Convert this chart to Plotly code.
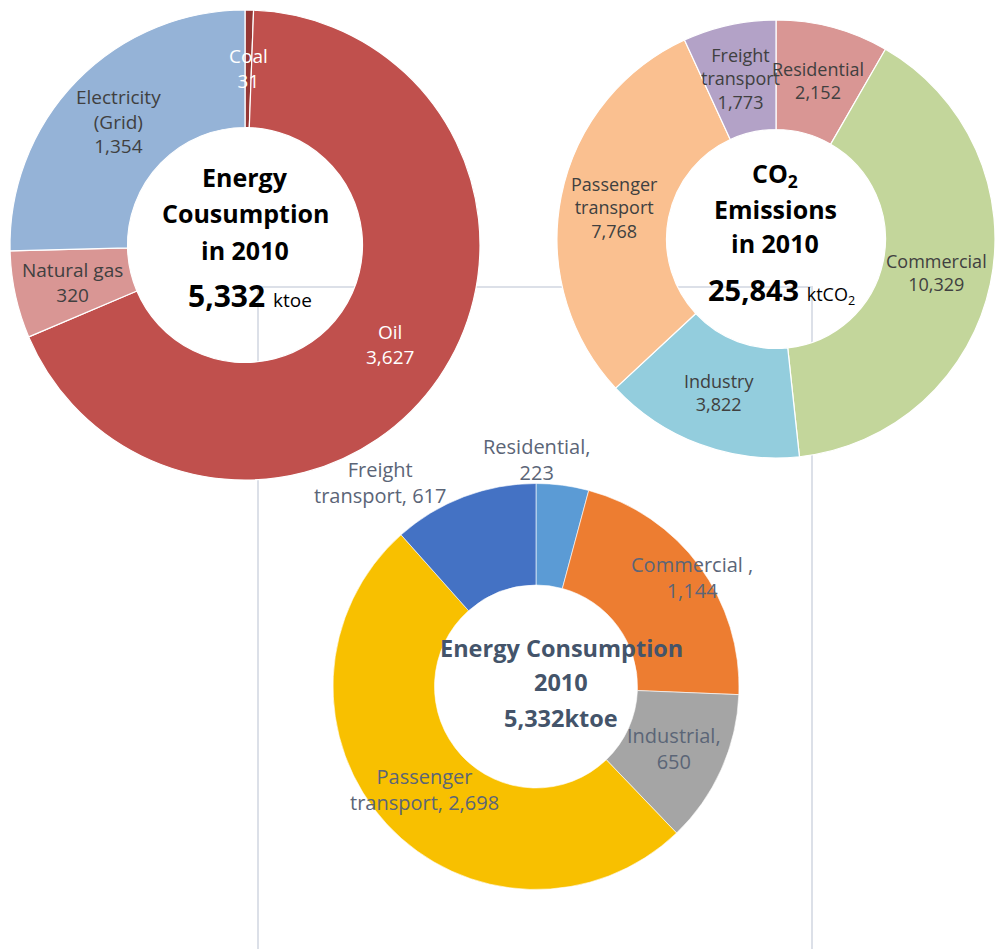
import math
import plotly.graph_objects as go

W, H = 995, 949

# ---- Energy consumption by source, 2010 (ktoe) ----
src_names = ["Coal", "Oil", "Natural gas", "Electricity<br>(Grid)"]
src_values = [31, 3627, 320, 1354]
src_colors = ["#953735", "#C0504D", "#D99694", "#95B3D7"]
src_text_colors = ["#FFFFFF", "#FFFFFF", "#404040", "#404040"]

# ---- CO2 emissions by sector, 2010 (ktCO2) ----
co2_names = ["Residential", "Commercial", "Industry", "Passenger<br>transport", "Freight<br>transport"]
co2_values = [2152, 10329, 3822, 7768, 1773]
co2_colors = ["#D99694", "#C3D69B", "#93CDDD", "#FAC090", "#B3A2C7"]
co2_total = 25843

# ---- Energy consumption by sector, 2010 (ktoe) ----
sec_labels = ["Residential,<br>{v}", "Commercial ,<br>{v}", "Industrial,<br>{v}",
              "Passenger<br>transport, {v}", "Freight<br>transport, {v}"]
sec_values = [223, 1144, 650, 2698, 617]
sec_colors = ["#5B9BD5", "#ED7D31", "#A5A5A5", "#F8C000", "#4472C4"]


def px_x(x):
    return x / W


def px_y(y):
    return 1 - y / H


def domain_for(left, top, size_w, size_h):
    return dict(x=[px_x(left), min(1.0, px_x(left + size_w))],
                y=[px_y(top + size_h), px_y(top)])


def mid_angles(values):
    total = sum(values)
    out, acc = [], 0.0
    for v in values:
        span = v / total * 360.0
        out.append(acc + span / 2)
        acc += span
    return out


def polar_px(cx, cy, r, ang_deg):
    a = math.radians(ang_deg)
    return cx + r * math.sin(a), cy - r * math.cos(a)


fig = go.Figure()

# Pie geometry (pixel space); radius follows from the domain size
P1 = dict(left=10, top=10, w=470, h=470)
P2 = dict(left=557, top=20, w=438, h=438)
P3 = dict(left=333, top=483.5, w=406, h=406)

for vals, cols, P, lw in [(src_values, src_colors, P1, 1.2),
                          (co2_values, co2_colors, P2, 1.2),
                          (sec_values, sec_colors, P3, 0.6)]:
    fig.add_trace(go.Pie(
        values=vals,
        marker=dict(colors=cols, line=dict(color="#FFFFFF", width=lw)),
        hole=0.5, sort=False, direction="clockwise", rotation=0,
        textinfo="none", hoverinfo="skip", showlegend=False,
        domain=domain_for(P["left"], P["top"], P["w"], P["h"]),
    ))


def center_radius(P):
    s = min(P["w"], min(W - P["left"], P["w"]), P["h"])
    return P["left"] + s / 2, P["top"] + P["h"] / 2, s / 2


annotations = []

# Slice labels for the two upper rings sit halfway across the ring
for names, vals, P, size, colors in [
        (src_names, src_values, P1, 19, src_text_colors),
        (co2_names, co2_values, P2, 18, ["#404040"] * len(co2_values))]:
    cx, cy, R = center_radius(P)
    for name, v, ang, c in zip(names, vals, mid_angles(vals), colors):
        x, y = polar_px(cx, cy, 0.75 * R, ang)
        annotations.append(dict(
            x=px_x(x), y=px_y(y), xref="paper", yref="paper",
            text=f"{name}<br>{v:,}", showarrow=False,
            xanchor="center", yanchor="middle", align="center",
            font=dict(family="Open Sans", size=size, color=c)))

# Lower ring: best-fit label placement (radius factor, angular nudge)
sec_place = [(1.116, -7.3), (0.94, 1.4), (0.744, 0.0), (0.75, 0.0), (1.266, -16.5)]
cx3, cy3, R3 = center_radius(P3)
for tmpl, v, ang, (rf, da) in zip(sec_labels, sec_values, mid_angles(sec_values), sec_place):
    x, y = polar_px(cx3, cy3, rf * R3, ang + da)
    annotations.append(dict(
        x=px_x(x), y=px_y(y), xref="paper", yref="paper",
        text=tmpl.format(v=f"{v:,}"), showarrow=False,
        xanchor="center", yanchor="middle", align="center",
        font=dict(family="Open Sans", size=20, color="#5B6577")))


def center_line(x, y, text, size, color="#000000", family="Open Sans"):
    annotations.append(dict(
        x=px_x(x), y=px_y(y), xref="paper", yref="paper", text=text,
        showarrow=False, xanchor="center", yanchor="middle",
        font=dict(family=family, size=size, color=color)))


# Centre titles
cx1, cy1, _ = center_radius(P1)
center_line(cx1, cy1 - 68, "<b>Energy</b>", 25)
center_line(cx1, cy1 - 32, "<b>Cousumption</b>", 25)
center_line(cx1, cy1 + 5, "<b>in 2010</b>", 25)
center_line(cx1 + 5, cy1 + 50,
            f"<b>{sum(src_values):,}</b> <span style='font-size:19px'>ktoe</span>", 30)

cx2, cy2, _ = center_radius(P2)
center_line(cx2 - 1, cy2 - 64, "<b>CO<sub>2</sub></b>", 25)
center_line(cx2 - 1, cy2 - 30, "<b>Emissions</b>", 25)
center_line(cx2 - 1, cy2 + 4, "<b>in 2010</b>", 25)
center_line(cx2 + 5, cy2 + 50,
            f"<b>{co2_total:,}</b> <span style='font-size:18px'>ktCO<sub>2</sub></span>", 29)

center_line(cx3 + 25, cy3 - 39, "<b>Energy Consumption</b>", 23.5, "#44546A")
center_line(cx3 + 25, cy3 - 5, "<b>2010</b>", 23.5, "#44546A")
center_line(cx3 + 25, cy3 + 31, f"<b>{sum(sec_values):,}ktoe</b>", 23.5, "#44546A")

# Light frame behind the rings
frame = (f"M {px_x(258)},{px_y(960)} L {px_x(258)},{px_y(287)} "
         f"L {px_x(812)},{px_y(287)} L {px_x(812)},{px_y(960)}")

fig.update_layout(
    width=W, height=H,
    margin=dict(l=0, r=0, t=0, b=0),
    paper_bgcolor="#FFFFFF", plot_bgcolor="#FFFFFF",
    annotations=annotations,
    shapes=[dict(type="path", path=frame, xref="paper", yref="paper",
                 line=dict(color="#DCE0E8", width=2), layer="below")],
)

fig.write_html("out.html")
